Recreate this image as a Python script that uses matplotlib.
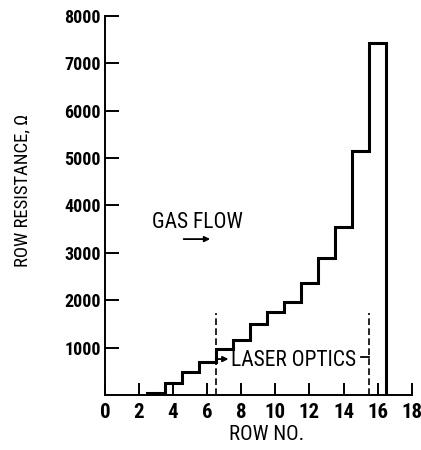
import numpy as np
import matplotlib
matplotlib.use("Agg")
import matplotlib.pyplot as plt

rows = np.array([3, 4, 5, 6, 7, 8, 9, 10, 11, 12, 13, 14, 15, 16])
resistance = np.array([50, 247, 479, 703, 970, 1154, 1491, 1745, 1968, 2369, 2897, 3551, 5154, 7432])
x_ticks = [0, 2, 4, 6, 8, 10, 12, 14, 16, 18]
y_ticks = [1000, 2000, 3000, 4000, 5000, 6000, 7000, 8000]
optics_bounds = [6.5, 15.5]

COND = "Roboto Condensed"

fig = plt.figure(figsize=(4.21, 4.50), dpi=100)
ax = fig.add_axes([0.249, 0.122, 0.729, 0.843])

edges = np.append(rows - 0.5, rows[-1] + 0.5)
ax.stairs(resistance, edges, baseline=0, color="black", lw=2.2)

ax.vlines(optics_bounds, 0, 1730, colors="black", linestyles=(0, (4, 2)), lw=1.2)

ax.set_xlim(0, 18)
ax.set_ylim(0, 8000)
for s in ["top", "right"]:
    ax.spines[s].set_visible(False)
for s in ["left", "bottom"]:
    ax.spines[s].set_linewidth(1.4)

ax.set_xticks(x_ticks)
ax.set_xticklabels([str(v) for v in x_ticks], fontfamily=COND, fontweight="bold", fontsize=15)
ax.set_yticks(y_ticks)
ax.set_yticklabels([str(v) for v in y_ticks], fontfamily=COND, fontweight="bold", fontsize=13)
ax.tick_params(axis="x", direction="in", length=9, width=1.4, pad=6)
ax.tick_params(axis="y", direction="in", length=10, width=1.4, pad=3)

ax.set_xlabel("ROW NO.", fontfamily=COND, fontsize=15)
ax.xaxis.set_label_coords(0.528, -0.105)
ax.xaxis.label.set_va("center")
ax.set_ylabel("ROW RESISTANCE, Ω", fontfamily=COND, fontsize=13.5)
ax.yaxis.set_label_coords(-0.27, 0.54)
ax.yaxis.label.set_va("center")

ax.text(5.43, 3650, "GAS FLOW", fontfamily=COND, fontsize=15.5, ha="center", va="center")
ax.annotate("", xy=(6.34, 3290), xytext=(4.46, 3290),
            arrowprops=dict(arrowstyle="-|>", color="black", lw=1.3, mutation_scale=8))

ax.text(11.07, 740, "LASER OPTICS", fontfamily=COND, fontsize=15.5, ha="center", va="center")
ax.annotate("", xy=(7.25, 760), xytext=(6.5, 760),
            arrowprops=dict(arrowstyle="-|>", color="black", lw=1.3, mutation_scale=8, shrinkA=0, shrinkB=0))
ax.plot([15.0, 15.5], [800, 800], color="black", lw=1.3)

fig.savefig("out.png", dpi=100)
